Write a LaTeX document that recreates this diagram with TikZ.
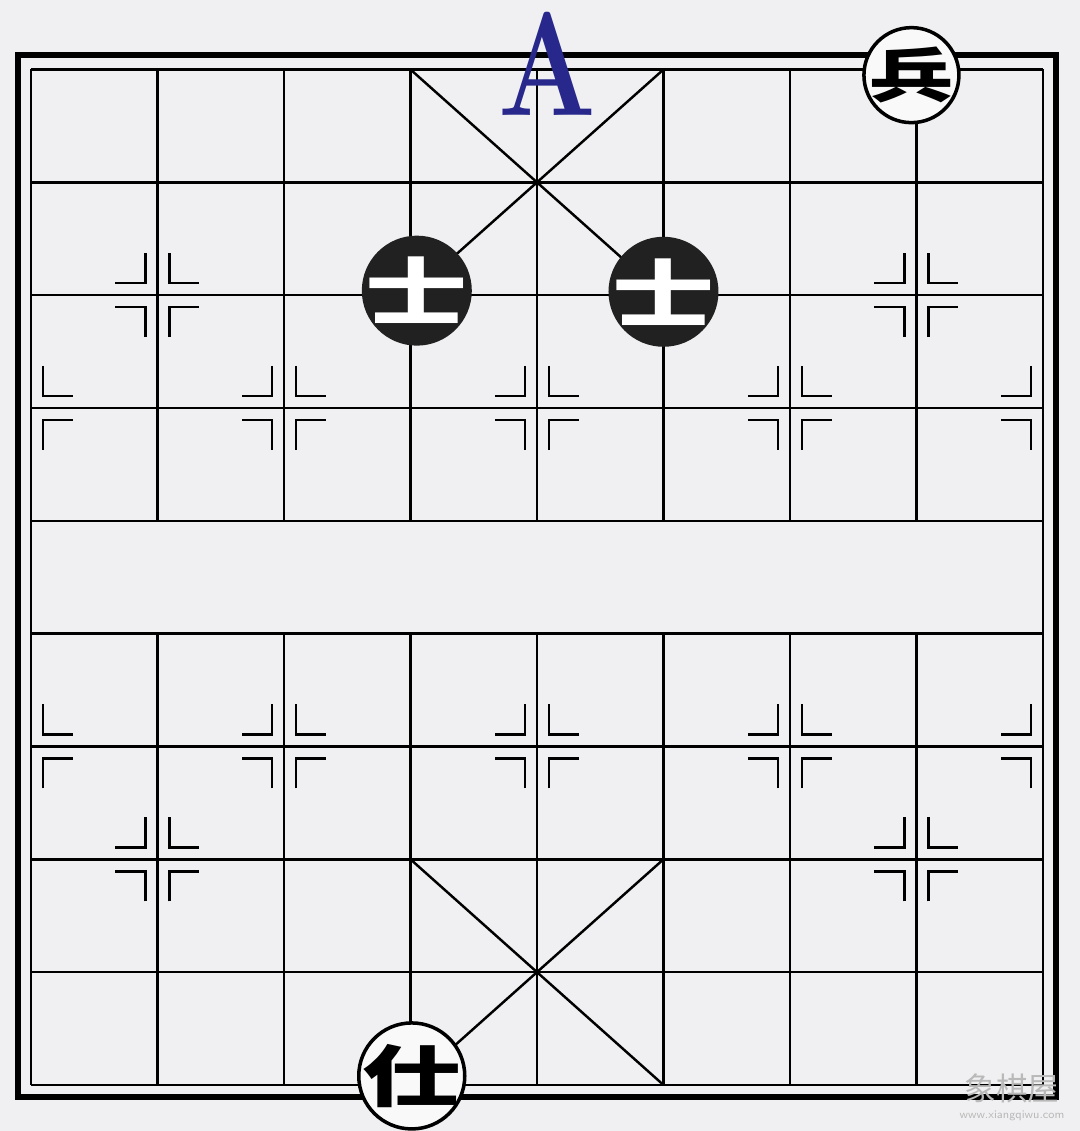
\documentclass[tikz,border=0pt]{standalone}
\usepackage{fontspec}
\usepackage{tikz}
\usetikzlibrary{positioning}
\newfontfamily\cjk{Noto Sans CJK SC}
\definecolor{boardbg}{RGB}{240,240,242}
\definecolor{letterblue}{RGB}{40,40,140}
%one corner of a position mark: column, row, x side, y side
\newcommand\corner[4]{\draw[shift={(#1,#2)}] ({#3*0.12cm},{#4*0.42cm}) -- ({#3*0.12cm},{#4*0.12cm}) -- ({#3*0.42cm},{#4*0.12cm});}

\begin{document}
\begin{tikzpicture}[x=1.265cm,y=1.1283cm,line width=.7pt,
  whitepiece/.style={circle,draw=black,line width=1pt,fill=white!60!boardbg,inner sep=0pt},
  blackpiece/.style={circle,fill=black!87,inner sep=0pt,minimum size=1.1cm},
  glyph/.style={inner sep=0pt,font=\cjk\bfseries}]
 %background and frame
    \useasboundingbox (-0.245,-0.408) rectangle (8.292,9.616);
    \fill[boardbg] (-0.245,-0.408) rectangle (8.292,9.616);
    \draw[line width=1.8pt] (-0.103,-0.106) rectangle (8.103,9.129);
  %draw ranks
    \foreach \j in {0,...,9} \draw (0,\j) -- (8,\j);
  %draw files
    \draw (0,0) -- (0,9); \draw (8,0) -- (8,9);
    \foreach \i in {1,...,7} {\draw (\i,0) -- (\i,4); \draw (\i,5) -- (\i,9);}
  %palaces
    \draw (3,0) -- (5,2); \draw (5,0) -- (3,2);
    \draw (3,7) -- (5,9); \draw (5,7) -- (3,9);
  %position marks
    \foreach \p in {(1,2),(7,2),(2,3),(4,3),(6,3),(2,6),(4,6),(6,6),(1,7),(7,7)}
      \foreach \sx in {-1,1} \foreach \sy in {-1,1} {
        \path \p coordinate (m);
        \draw[shift={(m)}] ({\sx*0.12cm},{\sy*0.42cm}) -- ({\sx*0.12cm},{\sy*0.12cm}) -- ({\sx*0.42cm},{\sy*0.12cm});
      }
    \foreach \j in {3,6} \foreach \sy in {-1,1} {\corner{0}{\j}{1}{\sy} \corner{8}{\j}{-1}{\sy}}
  %pieces
    \node[blackpiece] (shi1) at (3.05,7.04) {};
    \node[blackpiece] (shi2) at (5,7.03) {};
    \node[glyph,text=white,font=\cjk\bfseries\fontsize{29}{29}\selectfont] (shi1t) at (shi1) {\scalebox{1}[0.72]{士}};
    \node[glyph,text=white,font=\cjk\bfseries\fontsize{29}{29}\selectfont] (shi2t) at (shi2) {\scalebox{1}[0.72]{士}};
    \node[whitepiece,minimum size=0.95cm] (bing) at (6.96,8.95) {};
    \node[glyph,font=\cjk\bfseries\fontsize{24}{24}\selectfont] (bingt) at (bing) {\scalebox{1}[0.7]{兵}};
    \node[whitepiece,minimum size=1.06cm] (shi3) at (3.01,0.08) {};
    \node[glyph,font=\cjk\bfseries\fontsize{28}{28}\selectfont] (shi3t) at (shi3) {\scalebox{1}[0.68]{仕}};
  %the letter
    \node[text=letterblue,inner sep=0pt,font=\bfseries\fontsize{42}{42}\selectfont] (lettera) at (4.08,9.05) {\scalebox{0.78}[1]{A}};
  %site mark
    \node[text=gray!55,inner sep=0pt,font=\cjk\fontsize{9}{9}\selectfont] (site) at (7.755,-0.03) {象棋屋};
    \node[text=gray!55,inner sep=0pt,font=\sffamily\fontsize{3.3}{3.3}\selectfont,below=0.05cm of site] (url) {www.xiangqiwu.com};
\end{tikzpicture}
\end{document}
